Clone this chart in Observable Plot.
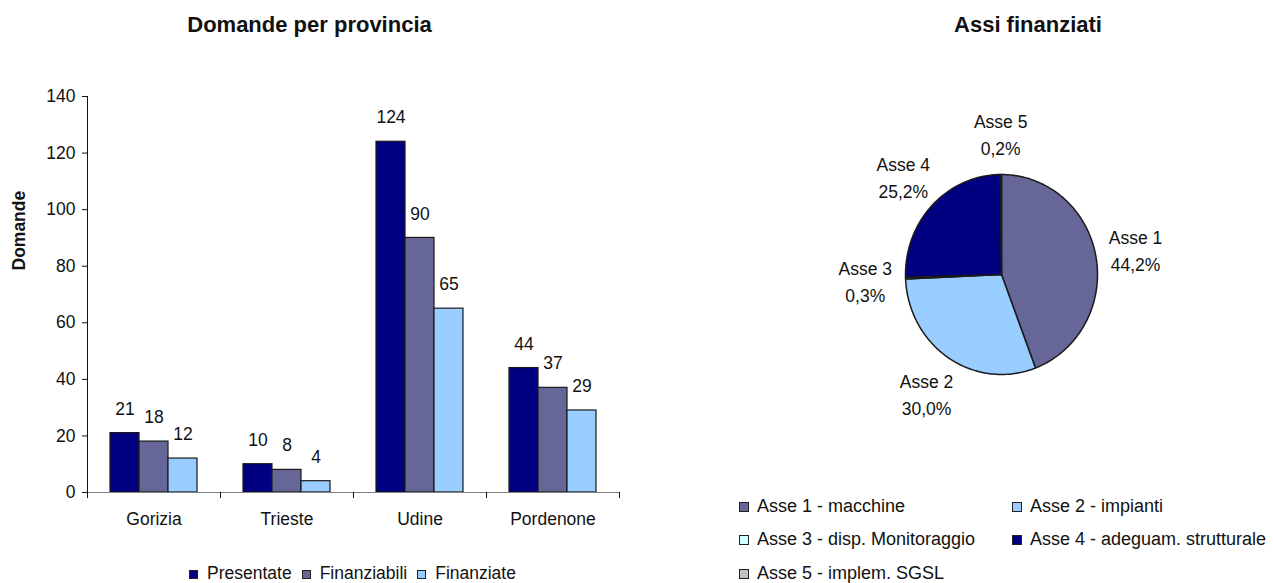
<!DOCTYPE html>
<html><head><meta charset="utf-8">
<script src="https://cdn.jsdelivr.net/npm/d3@7"></script>
<script src="https://cdn.jsdelivr.net/npm/@observablehq/plot@0.6"></script>
<style>
 body{margin:0;background:#fff;}
 #root{position:relative;width:1273px;height:583px;overflow:hidden;font-family:"Liberation Sans",Arial,sans-serif;color:#111;background:#fff;}
 .title{position:absolute;top:14px;font-weight:bold;font-size:22px;line-height:22px;white-space:nowrap;transform:translateX(-50%);}
 .leg{position:absolute;white-space:nowrap;}
 .sw{display:inline-block;box-sizing:border-box;border:1px solid #222;vertical-align:baseline;}
</style></head>
<body><div id="root"></div>
<script>
// ---- Data: bar chart ----
const provinces = ["Gorizia", "Trieste", "Udine", "Pordenone"];
const series = ["Presentate", "Finanziabili", "Finanziate"];
const presentate = [21, 10, 124, 44];
const finanziabili = [18, 8, 90, 37];
const finanziate = [12, 4, 65, 29];
const seriesColors = ["#000080", "#666699", "#99CCFF"];
const yTicks = [0, 20, 40, 60, 80, 100, 120, 140];

// ---- Data: pie chart ----
const axes = ["Asse 1", "Asse 2", "Asse 3", "Asse 4", "Asse 5"];
const axesLegend = ["Asse 1 - macchine", "Asse 2 - impianti", "Asse 3 - disp. Monitoraggio", "Asse 4 - adeguam. strutturale", "Asse 5 - implem. SGSL"];
const axesShare = [44.2, 30.0, 0.3, 25.2, 0.2];
const axesColors = ["#666699", "#99CCFF", "#CCFFFF", "#000080", "#C0C0C0"];

const root = document.getElementById("root");
const font = '"Liberation Sans", Arial, sans-serif';

// ---- Bar chart ----
const seriesValues = [presentate, finanziabili, finanziate];
const rows = provinces.flatMap((p, i) => series.map((s, j) => ({province: p, series: s, value: seriesValues[j][i]})));

const bar = Plot.plot({
  width: 660, height: 540,
  marginLeft: 85, marginRight: 40, marginTop: 96, marginBottom: 48,
  style: {fontFamily: font, fontSize: "17.5px", color: "#111", background: "transparent"},
  fx: {domain: provinces, paddingInner: 0, paddingOuter: 0, label: null},
  x: {domain: series, paddingInner: 0, paddingOuter: 0.73, axis: null},
  y: {domain: [0, 140], label: null},
  color: {domain: series, range: seriesColors},
  marks: [
    Plot.axisFx({anchor: "bottom", tickSize: 0, tickPadding: 20, label: null}),
    Plot.axisY({ticks: yTicks, tickSize: 5, tickPadding: 7, label: null, stroke: "#111"}),
    Plot.barY(rows, {fx: "province", x: "series", y: "value", fill: "series", stroke: "#1a1a1a", strokeWidth: 1.2}),
    Plot.text(rows, {fx: "province", x: "series", y: "value", text: "value", dy: -24, fill: "#111"}),
    Plot.ruleY([0], {stroke: "#808080", strokeWidth: 1.2}),
    Plot.frame({anchor: "left", facet: "super", stroke: "#111"}),
    Plot.frame({anchor: "left", insetTop: 396, insetBottom: -5, stroke: "#111"}),
    Plot.frame({anchor: "right", insetTop: 396, insetBottom: -5, facet: "super", stroke: "#111"}),
    Plot.text(["Domande"], {frameAnchor: "left", facet: "super", text: d => d, rotate: -90, dx: -68, dy: -24, fontWeight: "bold", fill: "#111"})
  ]
});
bar.style.position = "absolute";
bar.style.left = "0px";
bar.style.top = "0px";
root.appendChild(bar);

// ---- Pie chart ----
const arcs = d3.pie().sort(null).value(d => d)(axesShare);
const slicePts = arcs.flatMap((a, i) => {
  const n = Math.max(2, Math.ceil((a.endAngle - a.startAngle) / (Math.PI / 180)));
  const pts = [{name: axes[i], x: 0, y: 0}];
  for (let k = 0; k <= n; k++) {
    const t = a.startAngle + (a.endAngle - a.startAngle) * k / n;
    pts.push({name: axes[i], x: Math.sin(t), y: Math.cos(t)});
  }
  return pts;
});
const fmt = v => v.toFixed(1).replace(".", ",") + "%";
const pieLabels = arcs.map((a, i) => {
  const m = (a.startAngle + a.endAngle) / 2;
  return {x: 1.42 * Math.sin(m), y: 1.42 * Math.cos(m), label: axes[i] + "\n" + fmt(axesShare[i])};
});

const pie = Plot.plot({
  width: 400, height: 400, margin: 0,
  style: {fontFamily: font, fontSize: "17.5px", color: "#111", background: "transparent"},
  x: {domain: [-200 / 96, 200 / 96], axis: null},
  y: {domain: [-2, 2], axis: null},
  color: {domain: axes, range: axesColors},
  marks: [
    Plot.line(slicePts, {x: "x", y: "y", z: "name", fill: "name", stroke: "#1a1a1a", strokeWidth: 1.5, curve: "linear-closed", strokeLinejoin: "round"}),
    Plot.text(pieLabels, {x: "x", y: "y", text: "label", lineHeight: 1.54, fill: "#111"})
  ]
});
pie.style.position = "absolute";
pie.style.left = "801px";
pie.style.top = "74px";
root.appendChild(pie);

// ---- Titles ----
function addTitle(text, cx) {
  const d = document.createElement("div");
  d.className = "title";
  d.style.left = cx + "px";
  d.textContent = text;
  root.appendChild(d);
}
addTitle("Domande per provincia", 309.5);
addTitle("Assi finanziati", 1028);

// ---- Bar legend ----
const bl = document.createElement("div");
bl.className = "leg";
bl.style.left = "189px";
bl.style.top = "565px";
bl.style.fontSize = "17.5px";
bl.style.lineHeight = "16px";
series.forEach((s, i) => {
  const sw = document.createElement("span");
  sw.className = "sw";
  sw.style.width = "9px"; sw.style.height = "9px";
  sw.style.marginRight = "9px";
  sw.style.background = seriesColors[i];
  const t = document.createElement("span");
  t.textContent = s;
  t.style.marginRight = "10px";
  bl.appendChild(sw); bl.appendChild(t);
});
root.appendChild(bl);

// ---- Pie legend ----
const colX = [739, 1012];
axesLegend.forEach((s, i) => {
  const col = i % 2, row = Math.floor(i / 2);
  const base = 512 + 33.5 * row;
  const d = document.createElement("div");
  d.className = "leg";
  d.style.left = colX[col] + "px";
  d.style.top = (base - 14.24) + "px";
  d.style.fontSize = "18px";
  d.style.lineHeight = "16px";
  const sw = document.createElement("span");
  sw.className = "sw";
  sw.style.width = "10px"; sw.style.height = "10px";
  sw.style.marginRight = "8px";
  sw.style.background = axesColors[i];
  const t = document.createElement("span");
  t.textContent = s;
  d.appendChild(sw); d.appendChild(t);
  root.appendChild(d);
});
</script></body></html>
